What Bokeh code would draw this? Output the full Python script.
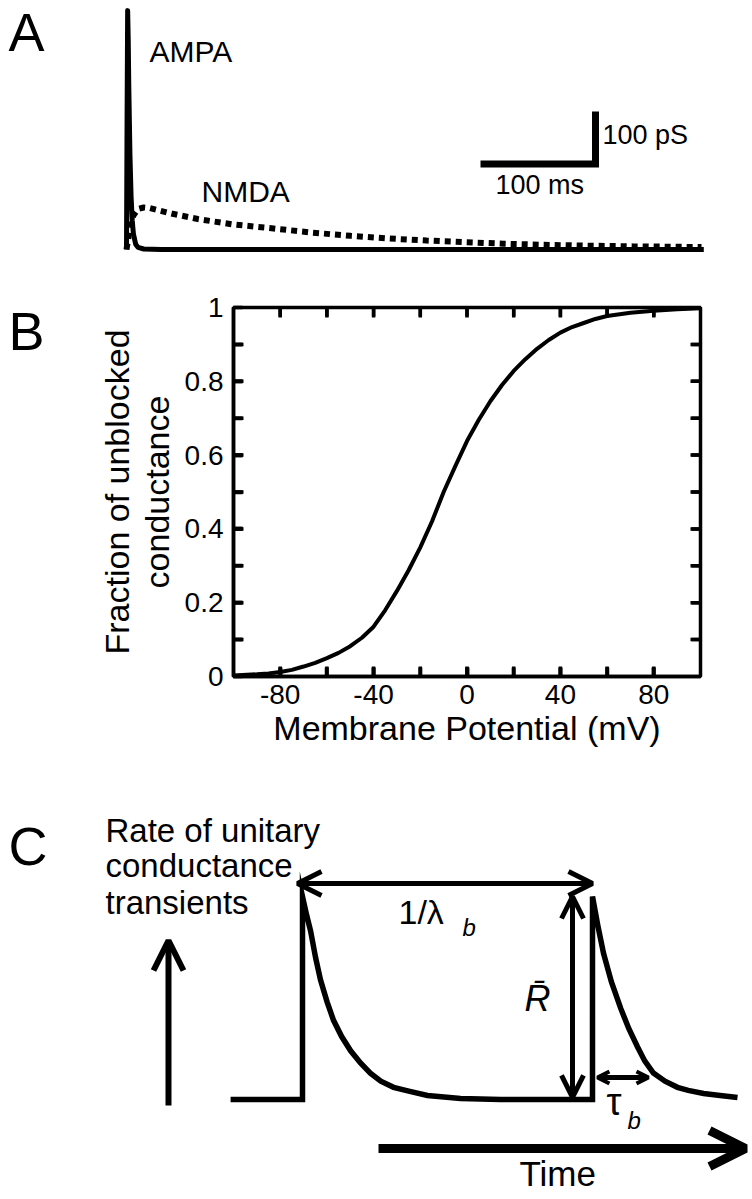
import numpy as np
from bokeh.plotting import figure
from bokeh.models import Label, Arrow, OpenHead, FixedTicker, PrintfTickFormatter
from bokeh.layouts import row
from bokeh.embed import file_html
from bokeh.resources import INLINE

FONT = "Liberation Sans"
SHIFT = 0.4   # label baseline correction (fraction of font size)

# ---------------- Panel A data (time in ms, conductance in pS) ----------------
ampa_t = [0, 0.5, 1.0, 1.5, 2, 3, 4, 5, 6, 8, 10, 15, 30, 100, 200, 300, 400, 502]
ampa_g = [0, 250, 455, 400, 310, 180, 100, 55, 30, 10, 4, 1, 0, 0, 0, 0, 0, 0]
nmda_t = [0, 3, 6, 10, 15, 20, 40, 62, 92, 128, 162, 195, 228, 261, 295, 328, 362, 395, 440, 500]
nmda_g = [0, 40, 65, 77, 80, 79, 68, 58, 48, 40, 32, 26, 21, 17, 14, 11, 9, 7.5, 6, 4.7]
scalebar_ms = 100
scalebar_pS = 100

# ---------------- Panel B data (mV, fraction unblocked) ----------------
mv = [-100, -90, -85, -80, -75, -70, -65, -60, -55, -50, -45, -40, -35, -30, -25, -20, -15, -10, -5,
      0, 5, 10, 15, 20, 25, 30, 35, 40, 45, 50, 55, 60, 70, 80, 90, 100]
frac = [0.003, 0.006, 0.008, 0.012, 0.018, 0.027, 0.037, 0.05, 0.064, 0.082, 0.105, 0.135, 0.18, 0.232,
        0.288, 0.35, 0.42, 0.50, 0.57, 0.638, 0.695, 0.746, 0.79, 0.828, 0.86, 0.888, 0.912, 0.932,
        0.947, 0.958, 0.969, 0.977, 0.986, 0.991, 0.995, 0.998]
x_ticks = [-80, -40, 0, 40, 80]
x_minor = [-80, -60, -40, -20, 0, 20, 40, 60, 80]
y_ticks = [0, 0.2, 0.4, 0.6, 0.8, 1.0]
y_minor = [0.1, 0.2, 0.3, 0.4, 0.5, 0.6, 0.7, 0.8, 0.9]

# ---------------- Panel C data (time in units of 1/lambda_b, rate in units of R-bar) ----------------
c_t = [-0.248, 0, 0, 0.014, 0.028, 0.045, 0.062, 0.085, 0.107, 0.135, 0.166, 0.2, 0.234, 0.27, 0.314,
       0.37, 0.431, 0.545, 0.683, 0.85, 1.0,
       1.0, 1.018, 1.038, 1.065, 1.097, 1.125, 1.155, 1.18, 1.210, 1.25, 1.293, 1.33, 1.383, 1.44, 1.5]
c_r = [0, 0, 1.0, 0.91, 0.83, 0.70, 0.59, 0.48, 0.39, 0.31, 0.24, 0.18, 0.13, 0.09, 0.06,
       0.04, 0.02, 0.005, 0, 0, 0,
       1.0, 0.86, 0.72, 0.58, 0.45, 0.35, 0.26, 0.19, 0.13, 0.09, 0.06, 0.045, 0.03, 0.02, 0.01]
interval = 1.0    # 1/lambda_b
rbar = 1.0        # R-bar
tau_b = 0.176

W = 752


def lab(p, x, y, text, size, style="normal", align="left", pxscale=1.0):
    """y is the desired baseline; pxscale converts pixels to data units on y."""
    p.add_layout(Label(x=x, y=y + SHIFT * size * pxscale, text=text, text_font=FONT,
                       text_font_size=f"{size}px", text_font_style=style, text_align=align,
                       text_baseline="alphabetic", text_color="black"))


# =============================== Panel A ===============================
A_top, A_bot = 0, 270
def ta(x): return (x - 126) / 1.15
def ga(y): return (249 - y) / 0.525

pa = figure(width=W, height=A_bot - A_top, x_range=(ta(0), ta(W)), y_range=(ga(A_bot), ga(A_top)),
            x_axis_location=None, y_axis_location=None, toolbar_location=None,
            output_backend="svg", min_border=0, outline_line_color=None)
pa.grid.visible = False
pa.line(nmda_t, nmda_g, line_width=6, color="black", line_dash="6 5")
pa.line(ampa_t, ampa_g, line_width=5, color="black", line_join="round")
sb_t0, sb_g0 = ta(480), ga(163.5)
pa.line([sb_t0, sb_t0 + scalebar_ms, sb_t0 + scalebar_ms], [sb_g0, sb_g0, sb_g0 + scalebar_pS],
        line_width=7, color="black", line_join="miter")
pxa = 1 / 0.525
lab(pa, ta(8), ga(53), "A", 54, pxscale=pxa)
lab(pa, ta(149), ga(63), "AMPA", 30, pxscale=pxa)
lab(pa, ta(201), ga(203), "NMDA", 30, pxscale=pxa)
lab(pa, ta(602), ga(145), "100 pS", 27, pxscale=pxa)
lab(pa, ta(495), ga(195), "100 ms", 27, pxscale=pxa)

# =============================== Panel B ===============================
B_top, B_bot = 270, 770
FR_L, FR_R, FR_T, FR_B = 233, 700, 307, 676
LW = 50   # width of the small figure that holds the panel letter

pl = figure(width=LW, height=B_bot - B_top, x_range=(0, LW), y_range=(0, FR_B - FR_T),
            x_axis_location=None, y_axis_location=None, toolbar_location=None,
            output_backend="svg", min_border_left=0, min_border_right=0,
            min_border_top=FR_T - B_top, min_border_bottom=B_bot - FR_B, outline_line_color=None)
pl.grid.visible = False
lab(pl, 8, FR_B - 352, "B", 54)

pb = figure(width=W - LW, height=B_bot - B_top, x_range=(-100, 100), y_range=(0, 1),
            toolbar_location=None, output_backend="svg",
            min_border_left=FR_L - LW, min_border_right=W - FR_R,
            min_border_top=FR_T - B_top, min_border_bottom=B_bot - FR_B)
pb.grid.visible = False
pb.outline_line_color = "black"
pb.outline_line_width = 3.5
pb.line(mv, frac, line_width=4, color="black")

# inward tick marks on all four sides: small bars centred on the frame edges
# (the frame clips the outer half, leaving the inward half)
nx, ny = len(x_minor), len(y_minor)
tick_kw = dict(fill_color="black", line_color=None, width_units="screen", height_units="screen")
pb.rect(x=x_minor, y=[0] * nx, width=3.5, height=20, **tick_kw)
pb.rect(x=x_minor, y=[1] * nx, width=3.5, height=20, **tick_kw)
pb.rect(x=[-100] * ny, y=y_minor, width=20, height=3.5, **tick_kw)
pb.rect(x=[100] * ny, y=y_minor, width=20, height=3.5, **tick_kw)
# the same marks drawn as short segments lying fully inside the frame
tick_x = 9 * 200 / 467
tick_y = 9 / 369
seg_kw = dict(line_width=3.5, line_color="black", line_cap="butt")
pb.segment(x0=x_minor, y0=[0] * nx, x1=x_minor, y1=[tick_y] * nx, **seg_kw)
pb.segment(x0=x_minor, y0=[1] * nx, x1=x_minor, y1=[1 - tick_y] * nx, **seg_kw)
pb.segment(x0=[-100] * ny, y0=y_minor, x1=[-100 + tick_x] * ny, y1=y_minor, **seg_kw)
pb.segment(x0=[100] * ny, y0=y_minor, x1=[100 - tick_x] * ny, y1=y_minor, **seg_kw)

bottom_ax = pb.xaxis[0]
left_ax = pb.yaxis[0]
bottom_ax.ticker = FixedTicker(ticks=x_ticks, minor_ticks=x_minor)
left_ax.ticker = FixedTicker(ticks=y_ticks, minor_ticks=y_minor)
for ax in [bottom_ax, left_ax]:
    ax.axis_line_width = 3.5
    ax.axis_line_color = "black"
    ax.major_tick_in = 9
    ax.major_tick_out = 0
    ax.minor_tick_in = 9
    ax.minor_tick_out = 0
    ax.major_tick_line_width = 3.5
    ax.minor_tick_line_width = 3.5
    ax.major_tick_line_color = "black"
    ax.minor_tick_line_color = "black"
    ax.formatter = PrintfTickFormatter(format="%g")
    ax.major_label_text_font = FONT
    ax.major_label_text_font_size = "28px"
    ax.major_label_text_color = "black"
    ax.axis_label_text_font = FONT
    ax.axis_label_text_font_size = "34px"
    ax.axis_label_text_font_style = "normal"
    ax.axis_label_text_color = "black"
bottom_ax.major_label_standoff = 8
left_ax.major_label_standoff = 10
bottom_ax.axis_label = "Membrane Potential (mV)"
bottom_ax.axis_label_standoff = 2
left_ax.axis_label = "Fraction of unblocked\nconductance"
left_ax.axis_label_standoff = 6
left_ax.axis_label_text_line_height = 1.05

panel_b = row(pl, pb, spacing=0)

# =============================== Panel C ===============================
C_top, C_bot = 770, 1197
def tc(x): return (x - 302) / 290
def rc(y): return (1099 - y) / 203

pc = figure(width=W, height=C_bot - C_top, x_range=(tc(0), tc(W)), y_range=(rc(C_bot), rc(C_top)),
            x_axis_location=None, y_axis_location=None, toolbar_location=None,
            output_backend="svg", min_border=0, outline_line_color=None)
pc.grid.visible = False
pc.line(c_t, c_r, line_width=5.5, color="black", line_join="miter")

# 1/lambda_b interval arrow
pc.add_layout(Arrow(x_start=interval, y_start=rc(883), x_end=tc(297), y_end=rc(883),
                    start=OpenHead(size=24, line_width=5), end=OpenHead(size=24, line_width=5),
                    line_width=5, line_color="black"))
# R-bar arrow
pc.add_layout(Arrow(x_start=tc(572), y_start=0.01, x_end=tc(572), y_end=rbar,
                    start=OpenHead(size=22, line_width=5), end=OpenHead(size=22, line_width=5),
                    line_width=5, line_color="black"))
# tau_b arrow
pc.add_layout(Arrow(x_start=interval + 0.017, y_start=rc(1077), x_end=interval + 0.017 + tau_b, y_end=rc(1077),
                    start=OpenHead(size=12, line_width=4), end=OpenHead(size=12, line_width=4),
                    line_width=5, line_color="black"))
# rate axis arrow
pc.add_layout(Arrow(x_start=tc(168), y_start=rc(1105), x_end=tc(168), y_end=rc(940),
                    end=OpenHead(size=30, line_width=6), start=None,
                    line_width=6, line_color="black"))
# time axis arrow
pc.add_layout(Arrow(x_start=tc(378), y_start=rc(1148), x_end=tc(745), y_end=rc(1148),
                    end=OpenHead(size=36, line_width=9), start=None,
                    line_width=9, line_color="black"))

pxc = 1 / 203
lab(pc, tc(8), rc(867), "C", 54, pxscale=pxc)
lab(pc, tc(105), rc(843), "Rate of unitary", 33, pxscale=pxc)
lab(pc, tc(105), rc(878), "conductance", 33, pxscale=pxc)
lab(pc, tc(105), rc(915), "transients", 33, pxscale=pxc)
lab(pc, tc(398), rc(925), "1/\u03bb", 34, pxscale=pxc)
lab(pc, tc(462), rc(937), "b", 24, style="italic", pxscale=pxc)
lab(pc, tc(524), rc(1012), "R\u0304", 36, style="italic", pxscale=pxc)
lab(pc, tc(606), rc(1117), "\u03c4", 38, pxscale=pxc)
lab(pc, tc(627), rc(1130), "b", 24, style="italic", pxscale=pxc)
lab(pc, tc(519), rc(1187), "Time", 35, pxscale=pxc)

open("out.html", "w").write(file_html([pa, panel_b, pc], INLINE))
